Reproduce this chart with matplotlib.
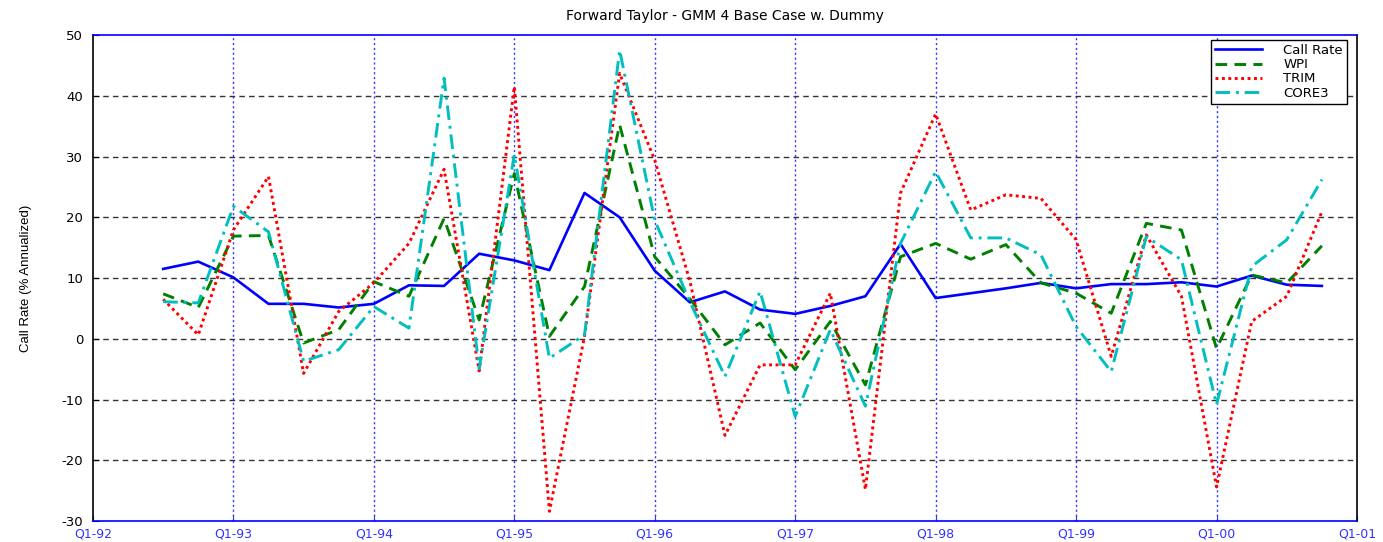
import matplotlib
matplotlib.use("Agg")
import matplotlib.pyplot as plt
import numpy as np

# quarterly observations, Q3-92 .. Q4-00
start_year = 1992.5
call_rate = [11.5, 12.7, 10.1, 5.75, 5.75, 5.15, 5.75, 8.8, 8.7, 14.0, 12.9, 11.3,
             24.0, 20.0, 11.2, 6.0, 7.8, 4.8, 4.1, 5.4, 7.0, 15.6, 6.7, 7.5,
             8.3, 9.2, 8.3, 9.0, 9.0, 9.3, 8.6, 10.4, 8.9, 8.7]
wpi = [7.4, 5.15, 16.9, 17.0, -0.7, 1.5, 9.4, 7.0, 19.8, 3.1, 27.2, 0.4,
       8.6, 35.2, 13.5, 6.6, -1.0, 2.6, -5.1, 2.85, -7.6, 13.5, 15.7, 13.1,
       15.5, 9.2, 7.5, 4.2, 19.0, 17.9, -1.6, 10.5, 9.2, 15.3]
trim = [6.5, 0.65, 17.9, 26.7, -5.7, 4.5, 9.2, 15.7, 27.9, -5.3, 41.5, -28.4,
        0.4, 43.7, 29.4, 9.5, -15.9, -4.3, -4.3, 7.5, -24.8, 24.0, 37.0, 21.2,
        23.7, 23.1, 16.3, -2.9, 17.1, 7.0, -24.4, 2.85, 7.0, 20.9]
core3 = [6.1, 5.9, 21.8, 17.6, -3.7, -1.8, 5.3, 1.75, 42.9, -4.9, 30.3, -3.2,
         0.65, 47.5, 19.5, 6.1, -6.2, 7.8, -12.8, 1.5, -11.1, 15.7, 27.5, 16.6,
         16.6, 13.8, 2.0, -5.4, 16.8, 13.0, -10.8, 11.9, 16.3, 26.2]

year_ticks = list(range(1992, 2002))
year_labels = ["Q1-92", "Q1-93", "Q1-94", "Q1-95", "Q1-96", "Q1-97",
               "Q1-98", "Q1-99", "Q1-00", "Q1-01"]
y_ticks = list(range(-30, 51, 10))

t = start_year + 0.25 * np.arange(len(call_rate))

plt.rcParams["font.family"] = ["DejaVu Sans"]

fig = plt.figure(figsize=(13.83, 5.42), dpi=100)
ax = fig.add_axes([0.0672, 0.0387, 0.9140, 0.8967])

ax.plot(t, call_rate, color="#0000ff", lw=1.9, ls="-", label="Call Rate", zorder=3)
ax.plot(t, wpi, color="#008000", lw=2.1, ls=(0, (4, 2.5)), label="WPI", zorder=3)
ax.plot(t, trim, color="#ff0000", lw=2.1, ls=(0, (1, 1.2)), label="TRIM", zorder=3)
ax.plot(t, core3, color="#00bfbf", lw=2.1, ls=(0, (5, 2, 1, 2)), label="CORE3", zorder=3)

ax.set_xlim(1992, 2001)
ax.set_ylim(-30, 50)
ax.set_xticks(year_ticks)
ax.set_xticklabels(year_labels, color="#3333ff", fontsize=9)
ax.set_yticks(y_ticks)
ax.set_yticklabels([str(v) for v in y_ticks], fontsize=9.5)
ax.tick_params(axis="both", direction="in", length=4)
ax.tick_params(axis="x", colors="#3333ff", labelcolor="#3333ff", pad=5)
ax.tick_params(axis="y", pad=7)

# MATLAB-style grid: dotted blue verticals, dashed dark horizontals
for x in year_ticks[1:-1]:
    ax.axvline(x, color="#3333ff", lw=1.0, ls=(0, (1.5, 2)), zorder=1)
for y in y_ticks[1:-1]:
    ax.axhline(y, color="#333333", lw=1.0, ls=(0, (4, 3)), zorder=1)

ax.spines["top"].set_color("#0000ff")
ax.spines["bottom"].set_color("#0000ff")
ax.spines["left"].set_color("black")
ax.spines["right"].set_color("black")
for s in ax.spines.values():
    s.set_linewidth(1.2)

ax.set_title("Forward Taylor - GMM 4 Base Case w. Dummy", fontsize=10, pad=11)
ax.set_ylabel("Call Rate (% Annualized)", fontsize=9.5, labelpad=21,
              family=["Liberation Sans Narrow", "Liberation Sans"])

leg = ax.legend(loc="upper right", bbox_to_anchor=(0.992, 0.99), fontsize=9.5,
                frameon=True, fancybox=False, edgecolor="black", framealpha=1.0,
                handlelength=3.6, borderpad=0.3, labelspacing=0.1,
                handletextpad=1.6, borderaxespad=0.0)
leg.get_frame().set_linewidth(1.0)

fig.savefig("out.png", dpi=100)
